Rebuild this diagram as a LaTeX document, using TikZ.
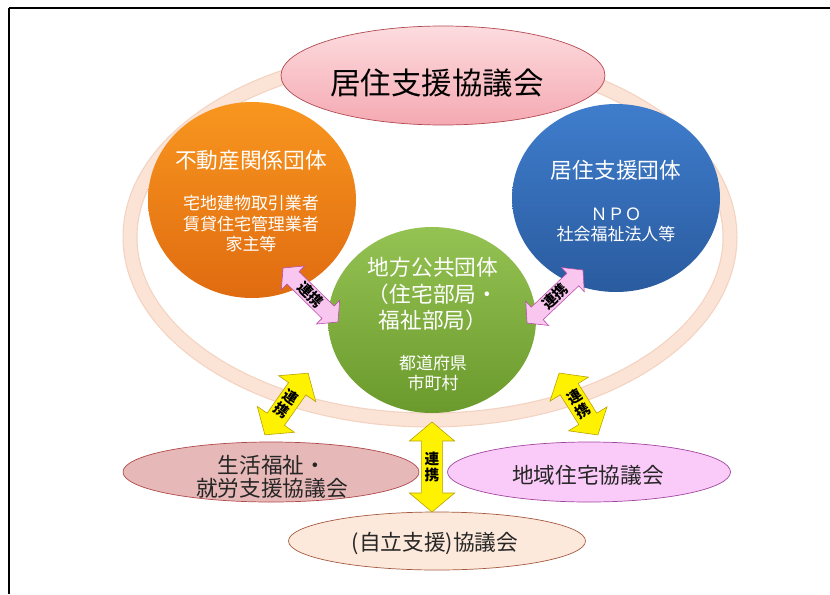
\documentclass[tikz,border=0pt]{standalone}
\usepackage{fontspec}
\setmainfont{Noto Sans CJK JP}
\usetikzlibrary{shapes.geometric,shapes.arrows}

\definecolor{ringpeach}{HTML}{FBE3D5}
\definecolor{ringedge}{HTML}{F3D2C0}
\definecolor{titletop}{HTML}{FCDCDF}
\definecolor{titlebot}{HTML}{F5A9B2}
\definecolor{titleedge}{HTML}{B24A52}
\definecolor{orangetop}{HTML}{F8961F}
\definecolor{orangebot}{HTML}{E06B10}
\definecolor{bluetop}{HTML}{3F7DCC}
\definecolor{bluebot}{HTML}{2A5B9F}
\definecolor{greentop}{HTML}{94C253}
\definecolor{greenbot}{HTML}{6B9A2C}
\definecolor{seikatsufill}{HTML}{E6B8B7}
\definecolor{seikatsuedge}{HTML}{B04A4A}
\definecolor{chiikifill}{HTML}{FACBF8}
\definecolor{chiikiedge}{HTML}{A046A0}
\definecolor{jiritsufill}{HTML}{FDE9DB}
\definecolor{jiritsuedge}{HTML}{A55A40}
\definecolor{pinkfill}{HTML}{F9C6F0}
\definecolor{pinkedge}{HTML}{B84FA8}
\definecolor{yellowedge}{HTML}{B8A000}
\definecolor{darktext}{HTML}{262626}

\begin{document}
\begin{tikzpicture}[x=0.3mm, y=-0.3mm,
  every node/.style={inner sep=0pt},
  ball/.style={ellipse, minimum width=62.4mm},
  kyogikai/.style={ellipse, draw, line width=0.6pt},
  nametxt/.style={text=white, align=center, font=\fontsize{18.5}{22.5}\selectfont},
  membertxt/.style={text=white, align=center, font=\fontsize{14.5}{17.5}\selectfont},
  kaitxt/.style={text=darktext, align=center, font=\fontsize{18.5}{19.5}\selectfont},
  renkei/.style={double arrow, draw, line width=0.5pt, double arrow tip angle=100,
    font=\fontsize{12.5}{13.5}\selectfont\bfseries},
  pinkarrow/.style={renkei, fill=pinkfill, draw=pinkedge, inner sep=0.4mm,
    minimum height=23.1mm, double arrow head extend=2.4mm},
  yellowarrow/.style={renkei, fill=yellow, draw=yellowedge, inner sep=0.9mm,
    shape border rotate=90, align=center, double arrow head extend=3.6mm}]
  \useasboundingbox (0,0) rectangle (830,594);

  % frame
  \draw[line width=0.6mm] (9,8) -- (830,8);
  \draw[line width=0.6mm] (9,8) -- (9,594);

  % ring
  \draw[ringedge, line width=4.5mm] (430,237) ellipse [x radius=300, y radius=183];
  \draw[ringpeach, line width=3.8mm] (430,237) ellipse [x radius=300, y radius=183];

  % top
  \node[kyogikai, draw=titleedge, top color=titletop, bottom color=titlebot,
    minimum width=97.2mm, minimum height=29.7mm] (kyoju) at (443,75.5) {};
  \node[font=\fontsize{26}{30}\selectfont] (kyojutxt) at (437,83) {居住支援協議会};

  % three groups
  \node[ball, minimum height=58.8mm, top color=orangetop, bottom color=orangebot] (fudosan) at (252,200) {};
  \node[nametxt] (fudosanname) at (251,160) {不動産関係団体};
  \node[membertxt] (fudosanmem) at (251,224) {宅地建物取引業者\\賃貸住宅管理業者\\家主等};

  \node[ball, minimum height=56.4mm, top color=bluetop, bottom color=bluebot] (shien) at (616,198) {};
  \node[nametxt] (shienname) at (616,170) {居住支援団体};
  \node[membertxt] (shienmem) at (616,225) {ＮＰＯ\\社会福祉法人等};

  \node[ball, minimum height=55.8mm, top color=greentop, bottom color=greenbot] (chiho) at (432,320) {};
  \node[nametxt] (chihoname) at (433,294) {地方公共団体\\（住宅部局・\\福祉部局）};
  \node[membertxt] (chihomem) at (433,373) {都道府県\\市町村};

  % bottom
  \node[kyogikai, draw=seikatsuedge, fill=seikatsufill, minimum width=88.8mm, minimum height=18mm] (seikatsu) at (271,472) {};
  \node[kaitxt] (seikatsutxt) at (272,476.5) {生活福祉・\\就労支援協議会};
  \node[kyogikai, draw=chiikiedge, fill=chiikifill, minimum width=84.9mm, minimum height=18mm] (chiiki) at (589,472) {};
  \node[kaitxt] (chiikitxt) at (588,475) {地域住宅協議会};
  \node[kyogikai, draw=jiritsuedge, fill=jiritsufill, minimum width=89.1mm, minimum height=17.4mm] (jiritsu) at (437,541) {};
  \node[kaitxt] (jiritsutxt) at (435,543) {(自立支援)協議会};

  % renkei arrows
  \node[pinkarrow, rotate=-44.5] (renkeiL) at (310.5,295) {連携};
  \node[pinkarrow, rotate=43.5] (renkeiR) at (555,296.5) {連携};
  \node[yellowarrow, rotate=-35, minimum height=22.6mm] (renkeiSL) at (286.5,404) {連\\携};
  \node[yellowarrow, rotate=32, minimum height=21.9mm] (renkeiSR) at (578.5,404) {連\\携};
  \node[yellowarrow, minimum height=27mm] (renkeiC) at (432,467) {連\\携};
\end{tikzpicture}
\end{document}
